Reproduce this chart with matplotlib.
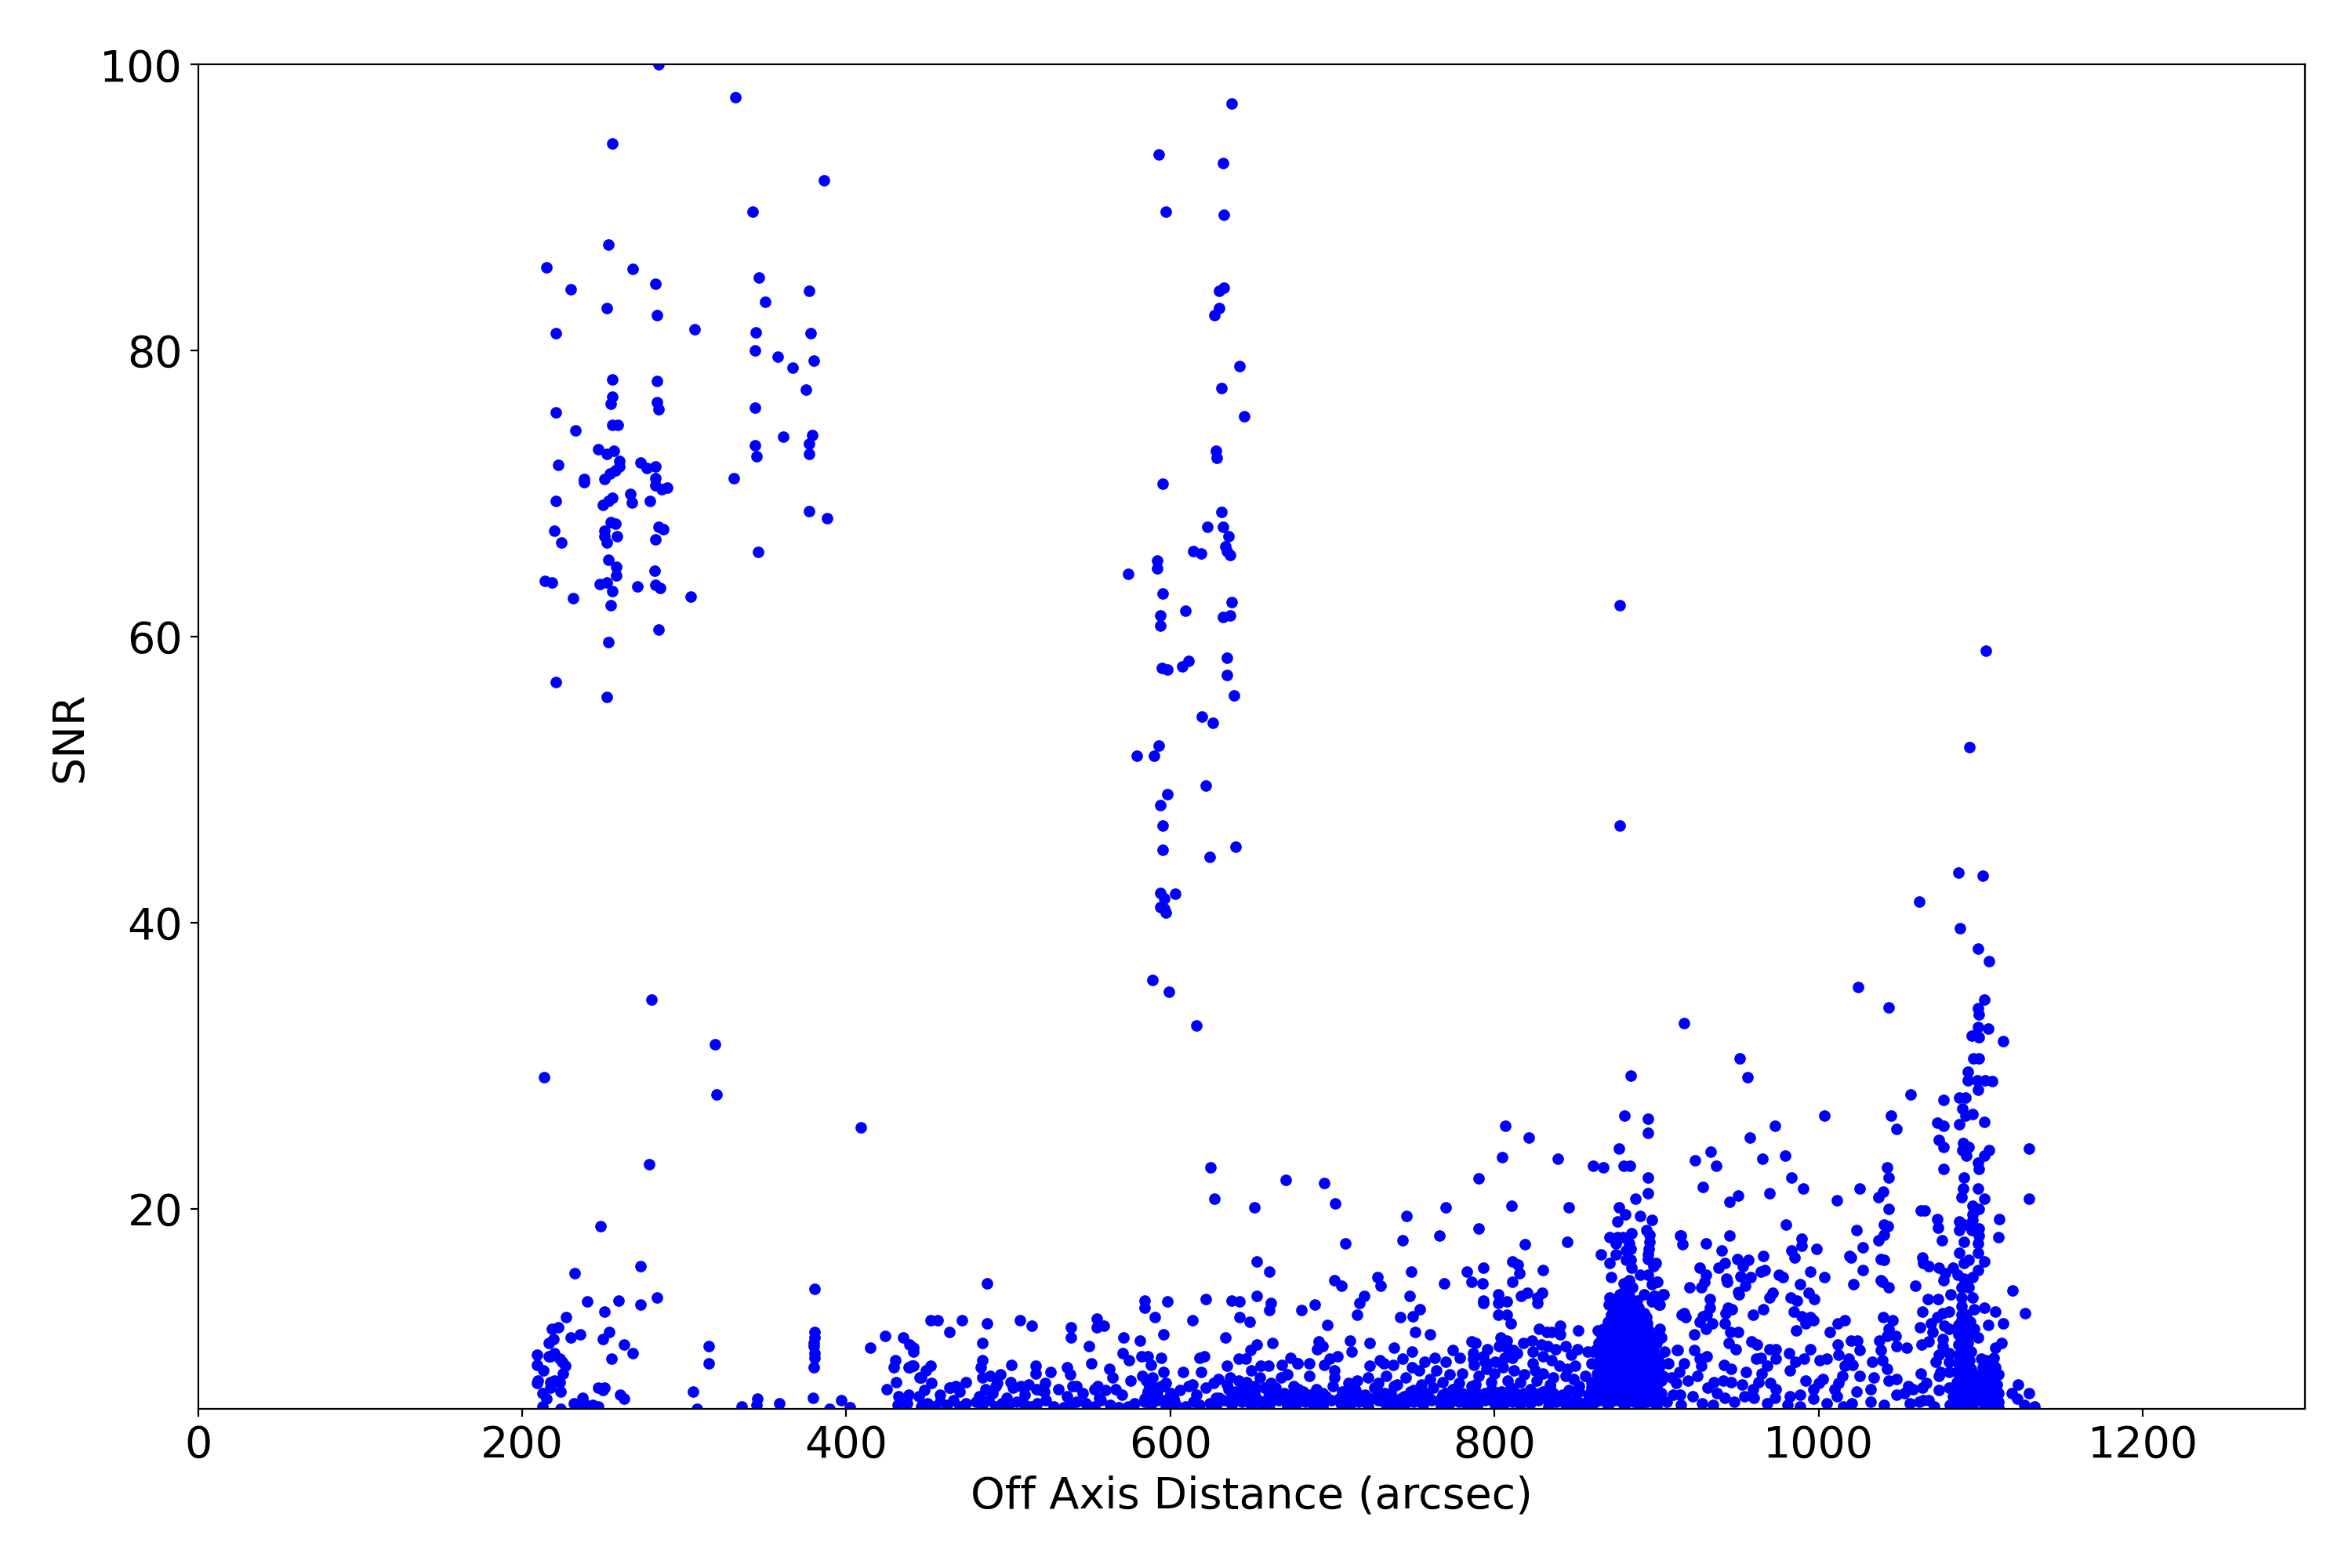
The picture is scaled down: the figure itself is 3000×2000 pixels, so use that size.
import numpy as np
import matplotlib
matplotlib.use('Agg')
from matplotlib import pyplot as plt

# upper left group
upper_left = [(215,85.8),(230,84.3),(221,81.2),(252,83),(253,87.4),(255.6,94.5),(268,85.7),(282,84.7),(283,82.5),(306.5,81.5),
(284,100),(331.5,97.7),(342,89.7),(386,91.9),(346,85.1),(350,83.4),(344,81.3),(343.5,80),(357.5,79.6),(367,78.8),
(377,84.2),(378,81.2),(380,79.3),(375,77.3),(379,74.1),(377,73.5),(377,72.8),(361,74),(343.5,76),(343.5,73.4),
(344.5,72.6),(330.5,71.1),(345.5,65.9),(377,68.8),(388,68.3),(221,75.7),(255.6,78),(255.6,76.8),(254.6,76.3),(283,76.4),
(284,75.9),(283,77.9),(233,74.4),(255.6,74.8),(259,74.8),(222,72),(247,73.1),(252,72.8),(256.5,73),(260,72.3),
(260,71.9),(257.5,71.6),(254,71.4),(251,71),(238,71),(238,70.8),(273,72.2),(277,71.8),(282,71.9),(282,71.1),
(282,70.6),(286,70.3),(289.5,70.4),(278.7,69.5),(266.7,70),(267.6,69.4),(253,69.5),(250,69.2),(255.6,69.7),(221,69.5),
(254.6,68),(257.5,67.9),(251,67.4),(251,67),(252,66.6),(220,67.4),(224,66.6),(284,67.7),(287,67.5),(282,66.8),
(258.4,67),(253,65.4),(258,64.9),(258,64.3),(214,63.9),(218.5,63.8),(248,63.7),(252,63.8),(255.6,63.2),(254.6,62.2),
(271,63.5),(281.5,64.6),(282,63.6),(285,63.4),(231.5,62.7),(304,62.8),(284,60.5),(253,59.6),(221,56.8),(252,55.8)]

# column near 600
middle_column = [(592.6,93.7),(632.5,93.1),(638,97.3),(597,89.7),(633,89.5),(633,84.4),(630,84.2),(630,83),(627,82.5),(642.6,78.9),
(631.5,77.4),(645.4,75.4),(628,73),(628.6,72.5),(595.4,70.7),(631.5,68.7),(632.5,67.7),(623,67.7),(636,67),(634,66.3),
(635,66),(637,65.7),(614,66),(619,65.8),(591.7,65.3),(591.7,64.8),(574,64.4),(638,62.4),(637,61.5),(632.5,61.4),
(609,61.8),(593.5,61.5),(593.5,60.8),(595.4,63),(635,58.5),(611,58.3),(607.5,57.9),(635,57.3),(594.5,57.8),(598,57.7),
(639,55.9),(619.5,54.4),(626,54),(592.6,52.4),(590,51.7),(579,51.7),(622,49.6),(598,49),(593.6,48.2),(595.4,46.8),
(595.4,45.1),(624,44.6),(640,45.3),(603,42),(593.6,42.1),(596,41.7),(593.6,41.1),(596,41),(597,40.7),(589,36),
(599,35.2),(616,32.8)]

# isolated points above the right hand spikes
right_strays = [(691,62.2),(877,62.2),(877,46.8),(1103,59),(1093,52.3),(1086,43.5),(1101,43.3),(1062,41.5),(1087,39.6)]

# low group on the left, x below 450
low_left = [(319,31.5),(213.6,29.2),(320,28),(409,25.7),(278.5,23.1),(279.6,34.6),(248.5,18.8),(273,16),(232.4,15.5),(380.4,14.4),
(240,13.5),(259.7,13.6),(273,13.3),(283,13.8),(227,12.4),(251,12.8),(218.6,11.6),(222.3,11.7),(253.5,11.4),(249.8,10.9),
(230,11),(235.9,11.2),(219.3,10.9),(216.3,10.6),(263,10.5),(268,9.9),(255,9.5),(209,9.8),(209,9.1),(216.3,9.7),
(217.6,9.7),(220,9.9),(223,9.5),(224.5,9.3),(226.7,9),(213,8.7),(225,8.5),(209.6,8),(209,7.8),(217.6,7.9),
(219.6,8),(223,7.9),(217.6,7.5),(212.6,7.1),(215,6.7),(223.5,7.2),(246.8,7.5),(251,7.5),(249.8,7.3),(260.6,7),
(263,6.7),(212.6,6.2),(223.5,6),(237,6.8),(232,6.4),(235,6.3),(238,6.4),(243.3,6.3),(246.8,6.2),(305.4,7.2),
(308,6),(315,10.4),(315,9.2),(335.4,6.2),(345,6.7),(344.8,6.3),(358.7,6.4),(380.4,11.4),(380.4,11),(380,10.6),
(380,10.4),(380.4,9.6),(380.4,9.9),(380,8.9),(379.5,6.8),(389.6,6),(397,6.6),(402,6.1),(423.8,11.1),(414.6,10.3),
(435,11),(439,10.5),(441.6,10.3),(441.6,10),(430,9.4),(429.5,8.9),(439,8.9),(441.6,9),(446,8.2),(430.5,7.9),
(425,7.4),(432.4,6.9),(438.6,7),(444.8,6.9),(431.7,6.3),(437.4,6.4),(446,6.2)]

# x from 430 to 775, SNR above 7.5
low_mid = [(624.8,22.9),(627,20.7),(671,22),(652,20.1),(653.4,16.3),(661,15.6),(487,14.8),(584,13.6),(584,13.1),(598,13.5),
(590.5,12.4),(622,13.7),(638,13.6),(642.8,13.5),(642.8,12.4),(649,12.1),(653,13.9),(662,13.4),(661,12.9),(452,12.2),
(456.5,12.2),(471.4,12.2),(463.7,11.4),(486.6,12),(507,12.2),(514.4,11.8),(538.6,11.7),(538.6,11),(554.6,12.3),(554.4,11.7),
(559,11.8),(549.7,10.4),(571,11),(581,10.8),(595.5,11.2),(613.8,12.2),(634,11),(653.4,10.5),(663,10.6),(484,10.6),
(484,9.4),(483,8.9),(502,9.1),(517,9),(517,8.5),(526,8.6),(536,8.9),(538,8.4),(551.4,9.2),(562.4,8.8),
(564,8.2),(570.6,9.9),(574.5,9.4),(582,9.7),(586,9.7),(588,9.1),(594,9.6),(595.5,8.6),(608,8.6),(617.7,9.6),
(620.7,9.7),(619,8.6),(635,9),(642,9.5),(646.5,9.5),(649.5,10.1),(650,8.7),(655.5,9),(660.5,9),(668.7,9.1),
(674,9.6),(678.6,9.2),(438.4,8.9),(440.5,9),(449,8.7),(452,9),(445,8.2),(452.5,7.8),(467.5,7.6),(463.7,7.5),
(473.8,7.9),(484,8.2),(489,8.3),(495,8.4),(493,7.8),(501.5,7.9),(507.5,7.6),(512.7,7.7),(517.4,7.4),(522.6,7.8),
(539.7,7.6),(555,7.6),(553,7.4),(566,7.4),(575.6,8),(582.7,8.3),(589,8.2),(597,7.8),(595.7,7.6),(611,7.6),
(613.8,7.7),(626.8,7.8),(629.6,8.1),(637,8.2),(642,8),(647,7.9),(655,8.2),(652,7.6),(662,7.8),(668,8.2),
(672,8.4),(665,7.5),(676,7.6),(585,8),(587,7.6),(592,7.5),(645,7.6),(635,7.7),(658,7.5),(679,7.4)]

# x from 680 to 860
low_right = [(694.7,21.8),(701.5,20.4),(806.5,25.8),(821,25),(804.5,23.6),(838.9,23.5),(790,22.1),(770,20.1),(810.3,20.2),(846,20.1),
(745.5,19.5),(790,18.6),(765.8,18.1),(743,17.8),(845,17.7),(708,17.6),(818.5,17.5),(810.8,16.3),(814.5,16.1),(815.2,15.5),
(793,15.9),(782.7,15.6),(830,15.7),(748.4,15.6),(727.6,15.2),(729.5,14.6),(701,15),(705.3,14.6),(785.6,14.9),(792.4,14.8),
(810.8,14.9),(769,14.8),(719.4,13.9),(716.5,13.4),(715,12.6),(747.4,13.9),(753.7,13),(749.4,12.5),(742,12.4),(696.6,11.9),
(750.8,11.4),(760,11.2),(802,14),(802,13.4),(807.4,13.5),(793,13.4),(793,13.6),(802,12.6),(807.6,12.6),(809.8,12),
(816.5,13.9),(820,14.1),(829.4,14.1),(826.6,13.4),(826.6,13.8),(827.3,11.6),(832.3,11.4),(835,11.4),(840.3,11.8),(840.3,11.2),
(851.5,11.5),(863.5,11.5),(681,12.9),(688.8,13.3),(710.6,10.8),(711.6,10),(691.6,10.7),(694,10.4),(690.7,10.2),(723,10.6),
(737.7,10.3),(749,10),(685.8,9.2),(703,9.7),(698,9.5),(694.7,9.1),(678.5,9.2),(701,8.7),(701,8.2),(685.8,8.3),
(723,9),(729,9.4),(731.8,9.2),(737.4,9.1),(743,9.5),(749,8.9),(756.8,9.3),(753.5,8.7),(763,9.6),(770,9.3),
(774,10.1),(778.7,9.6),(764,8.7),(785.6,10.7),(788,10.6),(786.6,9.9),(786.6,9.5),(787.4,9.1),(795.5,10.2),(793,9.7),
(793.9,9.3),(800.3,9.3),(803.5,11),(807.6,10.8),(802.7,10.4),(807.6,10.3),(811.6,10.1),(814,9.9),(806,9.6),(810.8,9.6),
(817.7,10.6),(822.9,10.8),(828.6,10.5),(832.6,10.4),(837.4,10.2),(843.9,10.4),(823.7,10),(823.7,9.2),(830,9.7),(835,9.4),
(847,9.8),(851,10.2),(857.6,10),(860.8,10),(849.5,9),(860,9.2),(840,9),(844.7,8.8),(856,8.3),(843.9,8.3),
(848.9,8.1),(795,8.8),(800,8.5),(805,8.9),(812,8.7),(818,8.4),(825,8.7),(830,8.5),(836,8.2),(790,8.3),
(780,8.5),(772,8.4),(760,8.1),(745,8.2),(733,8.3),(722,8.2),(715,8),(710,7.8),(728,7.8),(740,7.7),
(755,7.7),(768,7.9),(778,7.8),(788,7.7),(798,7.9),(808,8),(816,7.9),(826,8),(834,7.7),(852,7.6),(860,7.8)]

# spike around 880
spike_880 = [(883.9,29.3),(880,26.5),(894.5,26.3),(894.5,25.3),(876.6,24.2),(860.6,23),(867,22.9),(879.7,23),(883.4,23),(894.5,22.2),
(894.5,21.1),(886.8,20.7),(876.6,20.1),(880.6,19.6),(890,19.5),(897,19.2),(876,19.1),(884.4,18.3),(893.5,18.5),(870.8,18),
(895.5,18.2),(876,18),(879,18),(875,17.6),(883,17.6),(895.5,17.7),(884,17.2),(881,17.1),(865.6,16.8),(875,16.8),
(895,17.2),(894.7,16.8),(894.7,16.5),(870.8,16.2),(881,16.4),(884,16.4),(884.4,15.9),(899.5,16.2),(898,16),(871.8,15.2),
(889.7,15.4),(894.7,15.4),(900.6,14.9),(897,14.7),(883,15),(879.7,14.8),(871,13.8),(870.5,13.3),(879.4,14.2),(892.3,14),
(898.7,13.9),(897,13.5),(904.4,14),(902,13.3),(893.5,12.4),(902,11.6),(913,10.1),(881,14.4),(885,14.5),(877,14),
(883,13.9),(876,13.5),(880,13.5),(884,13.5),(888,13.6),(873,13.1),(877,13),(881,13.1),(885,13),(889,13.1),
(872,12.6),(876,12.6),(880,12.6),(884,12.6),(888,12.6),(892,12.7),(870,12.1),(874,12.2),(878,12.1),(882,12.2),
(886,12.1),(890,12.2),(894,12),(867,11.6),(871,11.7),(875,11.6),(879,11.7),(883,11.6),(887,11.7),(891,11.6),
(895,11.5),(866,11.1),(870,11.1),(874,11.2),(878,11.1),(882,11.2),(886,11.1),(890,11.2),(894,11.1),(898,11.1),
(903,11),(864,10.6),(868,10.6),(872,10.7),(876,10.6),(880,10.7),(884,10.6),(888,10.7),(892,10.6),(896,10.7),
(900,10.6),(862,10.1),(866,10.1),(870,10.2),(874,10.1),(878,10.2),(882,10.1),(886,10.2),(890,10.1),(894,10.2),
(898,10.1),(905,10),(865,9.6),(869,9.6),(873,9.7),(877,9.6),(881,9.7),(885,9.6),(889,9.7),(893,9.6),(897,9.5),
(901,9.5),(864,9),(868,9.1),(872,9.1),(876,9),(880,9.1),(884,9),(888,9.1),(892,9),(896,9),(902,9),
(863,8.5),(867,8.5),(871,8.6),(875,8.5),(879,8.6),(883,8.5),(887,8.6),(891,8.5),(896,8.4),(899,8.6),
(904,8.3),(862,8),(866,8),(870,8.1),(874,8),(878,8.1),(882,8),(886,8.1),(890,8),(894,8),(898,7.9),
(903,8),(860,7.5),(864,7.5),(868,7.6),(872,7.5),(876,7.6),(880,7.5),(884,7.6),(888,7.5),(892,7.6),(896,7.5),
(900,7.5),(858,7),(862,7),(866,7.1),(870,7),(874,7.1),(878,7),(882,7.1),(886,7),(890,7.1),(894,7),
(898,7),(903,7.1),(850,6.6),(854,6.4),(858,6.5),(862,6.5),(866,6.6),(870,6.5),(874,6.6),(878,6.5),(882,6.6),
(886,6.5),(890,6.6),(894,6.5),(898,6.5),(902,6.6),(906,6.5),(852,6.1),(860,6.1),(870,6.1),(880,6.1),(890,6.1),(900,6.1)]

# x from 905 to 1060
right_group = [(917,33),(951.3,30.5),(956,29.2),(1024.4,35.5),(1043.2,34.1),(1056.8,28),(1003.5,26.5),(1044.7,26.5),(1048,25.6),(973,25.8),
(957.6,25),(933.4,24),(923.5,23.4),(936.8,23),(965.3,23.5),(979.4,23.7),(1042.3,22.9),(1043.2,22.2),(983,22.2),(928.5,21.5),
(990.5,21.4),(969.7,21.1),(1025.3,21.4),(1039.8,21.2),(1037,20.8),(1011.3,20.6),(950.3,20.9),(945,20.5),(1043.2,20),(979.8,18.9),
(1040,18.9),(1042.7,18.8),(1040,18.2),(1037,17.8),(1023.4,18.5),(989.5,17.9),(989.2,17.4),(914.5,18.1),(916,17.5),(930.5,17.6),
(945,18.1),(998.7,17.2),(940.2,17.1),(983.2,17.1),(985,16.6),(1027.3,17.3),(965.8,16.7),(950,16.5),(956.5,16.4),(953.2,16),
(942,16.2),(938,15.9),(926.6,15.9),(930.3,15.4),(929.4,14.9),(927.7,14.5),(920.2,14.5),(943.2,15.1),(943.5,14.9),(951.6,15.3),
(958,15.2),(954.8,14.6),(950.3,14.2),(950.8,14),(964.5,15.6),(966.5,15.7),(994.8,15.6),(975.5,15.4),(977.7,15.2),(1003.5,15.2),
(988.5,14.7),(993.9,14.1),(997.3,13.7),(1019,16.7),(1020,16.6),(1027.3,15.7),(1021.5,14.7),(1038.2,16.5),(1040,16.4),(1038.2,15),
(1039.5,14.9),(1043.2,14.5),(1059.7,14.6),(914.8,18.1),(915.6,12.6),(982.6,13.8),(986.3,13.6),(969.7,13.8),(971.3,14.1),(965.8,13),
(959.4,12.6),(984.7,12.8),(989.5,12.5),(995,12.4),(996.6,12.2),(991.9,12),(986,11.5),(1016.1,12.2),(1011.8,12),(1007,11.4),
(1011.8,10.5),(1020,10.8),(1023.9,10.8),(1025.3,10.1),(1039.8,12.4),(1045.6,12.2),(1043.2,11.6),(1047.6,11.1),(1042,11.1),(1037.4,10.8),
(1048,10.4),(1054.4,10.3),(1038.2,10.1),(1033,9.3),(1039.5,9.4),(1042,8.8),(1043.2,8),(1048,8.1),(1063,8.5),(1066.5,7.8),
(1063.7,7.5),(1055.3,7.6),(1058,7.4),(1053,7.1),(1048,7),(1032,7.4),(1023.4,7.2),(1020.2,6.4),(958.5,10.7),(962,10.5),
(969.7,10.2),(973.7,10.2),(973.7,9.5),(961.3,9.5),(964.5,9.6),(968.2,9),(981.8,9.9),(985.5,9.3),(982,8.7),(991,9.5),
(995,10.2),(1000.8,9.4),(1004.8,9.5),(1012,9.8),(1018.5,9.5),(1016,9),(1014.5,8.3),(1025,8.3),(1021,9.1),(991.9,8),
(1002.6,8.1),(1012,7.8),(1009.7,7.4),(1011.3,6.9),(923.2,11.2),(923.2,10.1),(912.6,10.1),(917,9.2),(914.2,8.6),(912,7.8),
(914.5,7),(919.4,8),(926.5,9.5),(931,9.7),(927.7,9),(925.3,8.3),(935.5,7.9),(931.5,7.5),(937.4,7.1),(935,6.3),
(945.2,11.4),(950.3,11.4),(944.4,10.6),(949,10.2),(941.6,9.1),(945.8,8.8),(955.2,8.6),(941,8),(945.8,7.9),(952.6,7.7),
(959.6,7.4),(965,8.5),(962.6,7.9),(970.2,7.8),(973.4,7.4),(960,6.8),(968.2,6.4),(973,6.8),(982.3,6.9),(988.7,7),
(996.6,7.4),(996.6,6.7),(1005,6.4),(980.6,6.3),(988.7,6.2),(917,12.7),(917.8,12.4),(926.6,12.1),(928.3,12.5),(930.8,12.6),
(933,13.7),(933,13.1),(930.5,11.6),(934.2,12),(941.9,12),(943.9,13.1),(946.3,13),(942.7,12.7),(904,14),(901.6,13.3),
(898.4,13.9),(900,14.9),(909,8.2),(907,9.2),(910,7),(915,6.3),(922,6.9),(928,6.4),(942,6.8),(948,6.5),
(954,6.9),(1032,6.5),(1040,6.3),(1015,6.2),(1000,7.8),(1034,8.2)]

# spike around 1090
spike_1090 = [(1098.4,38.2),(1105,37.3),(1102,34.6),(1098.4,34),(1098.7,33.6),(1098.4,32.7),(1104.8,32.6),(1094.4,32.1),(1098.7,32),(1113.9,31.7),
(1095.5,30.5),(1099,30.5),(1092,29.6),(1092,29),(1097.6,29),(1102.4,29),(1106.8,28.9),(1098.4,28.3),(1086.6,27.8),(1090.6,27.8),
(1077,27.6),(1088.7,27),(1095,26.6),(1090.6,26.5),(1102.3,26.1),(1086.6,25.9),(1073,26),(1077,25.8),(1073.9,24.8),(1077,24.3),
(1089,24.6),(1092.7,24.3),(1088.4,24.1),(1090.8,23.7),(1105,24.1),(1102.3,23.7),(1129.8,24.2),(1077,22.8),(1098.4,23.2),(1099,22.8),
(1089.5,22.2),(1089,21.4),(1088,20.8),(1098.4,21.4),(1102.3,20.7),(1129.8,20.7),(1095,20.2),(1099,20),(1063.2,19.9),(1065.3,19.9),
(1073.2,19.3),(1073.7,18.7),(1095,19.6),(1095,19.2),(1111.3,19.3),(1086.6,19.1),(1089.5,18.9),(1086.6,18.5),(1094.4,18.5),(1099,18.6),
(1099,18.1),(1098.4,17.6),(1075.8,17.8),(1111,18),(1089.5,17.7),(1086.6,16.9),(1098.4,16.9),(1063.7,16.6),(1064.5,16.2),(1067.7,16),
(1073.9,15.9),(1083,15.9),(1078,15.5),(1077,15),(1085.5,15.4),(1089.5,16.2),(1092.7,16.4),(1102.3,16.3),(1098.4,15.7),(1095,15.2),
(1089.5,15.1),(1088,14.5),(1092.7,14.5),(1119.8,14.3),(1081.5,14),(1067.4,13.7),(1073.7,13.7),(1088,13.8),(1094.8,13.8),(1088,13.2),
(1096.1,13),(1102.3,13.1),(1109,12.8),(1127.4,12.7),(1064,12.8),(1080.6,12.8),(1076.6,12.7),(1073.3,12.4),(1069.3,12),(1077.4,11.8),
(1062.6,11.7),(1088,12.6),(1093.5,12.1),(1096,11.6),(1104.8,11.9),(1113.9,12),(1098.4,11),(1080.6,11.6),(1070,11.4),(1076.6,10.9),
(1076.6,10.4),(1067.7,10.7),(1063.4,10.5),(1112.6,10.6),(1108.9,10.3),(1108,9.6),(1080.6,9.9),(1080.6,9.3),(1073.9,9.8),(1072.3,9.3),
(1088,12.2),(1091,12.6),(1086,11.9),(1090,11.7),(1093,11.2),(1086,11.2),(1089,10.9),(1092,10.6),(1086,10.5),(1090,10.2),
(1094,10),(1086,9.8),(1089,9.5),(1093,9.4),(1086,9.2),(1090,8.9),(1094,8.8),(1085,8.6),(1088,8.3),(1092,8.2),
(1096,8.4),(1085,7.9),(1089,7.7),(1093,7.6),(1097,7.8),(1085,7.2),(1089,7.1),(1093,7),(1097,7.2),(1085,6.6),
(1089,6.5),(1093,6.5),(1097,6.6),(1085,6.1),(1090,6.1),(1095,6.1),(1100,9.5),(1103,9.4),(1106,9.3),(1101,8.9),
(1105,8.8),(1109,8.9),(1100,8.3),(1104,8.4),(1108,8.3),(1111,8.4),(1100,7.8),(1103,7.7),(1107,7.8),(1110,7.7),
(1100,7.2),(1104,7.1),(1108,7.2),(1111,7.1),(1100,6.6),(1104,6.6),(1108,6.6),(1111,6.5),(1102,6.1),(1107,6.1),
(1111,6.1),(1073.9,7.3),(1073.9,8.3),(1080.6,8.6),(1075,8.6),(1080.6,7.5),(1083,6.9),(1081,6.3),(1064.5,6.6),(1056.4,6.4),
(1062,6.5),(1067.7,6.6),(1071,6.2),(1119,7.1),(1123,7.7),(1122.6,6.7),(1129.8,7.1),(1126.6,6.3),(1133,6.2)]

# bottom band, x from 430 to 860
band_x = [450,454,458,462,466,470,474,480,484,488,492,496,500,505,510,514,518,523,528,534,
538,542,548,553,557,563,568,574,578,584,588,592,597,603,609,614,618,624,628,633,
638,644,650,656,661,667,672,678,683,688,694,699,705,711,716,722,728,733,739,744,
750,756,761,767,772,778,783,789,794,800,805,811,816,822,827,833,838,844,849,855,
458,470,482,490,499,510,522,536,546,556,570,586,592,600,616,628,640,652,664,676,
686,696,708,720,732,744,756,768,780,792,804,816,828,840,852,
448,464,486,492,503,520,531,542,560,588,594,606,622,636,648,660,690,700,714,726,
738,750,762,774,786,798,810,822,834,846,
584,590,596,602,630,636,642,648,654,660,666,672,680,684,692,704,710,718,724,730,
736,742,748,754,760,766,772,778,784,790,796,802,808,814,820,826,832,838,844,850,
586,592,640,646,652,670,682,688,694,706,716,728,736,748,758,770,776,782,788,794,
800,806,812,818,824,830,836,842]
band_y = [6.4,6.2,6.5,6.3,6.6,6.2,6.4,6.5,6.3,6.6,6.2,6.4,6.1,6.5,6.3,6.2,6.4,6.6,6.2,6.1,
6.3,6.5,6.4,6.2,6.6,6.3,6.1,6.2,6.4,6.5,6.3,6.6,6.2,6.4,6.2,6.5,6.3,6.4,6.2,6.6,
6.3,6.5,6.2,6.4,6.3,6.6,6.2,6.4,6.5,6.3,6.2,6.6,6.4,6.3,6.5,6.2,6.6,6.3,6.4,6.2,
6.5,6.3,6.6,6.2,6.4,6.5,6.3,6.2,6.6,6.4,6.2,6.5,6.3,6.4,6.6,6.2,6.5,6.3,6.4,6.2,
7,7.2,6.9,7.1,6.8,7,7.2,6.9,7.1,6.8,7,7.2,6.9,7.1,7,6.8,7.2,7,6.9,7.1,
7,6.9,7.2,7,7.1,6.9,7.2,7,7.1,6.9,7.2,7,7.1,6.9,7.2,
7.3,7.5,7.4,7.6,7.5,7.3,7.4,7.6,7.3,7.5,7.6,7.3,7.5,7.4,7.6,7.3,7.4,7.6,7.3,7.5,
7.6,7.3,7.5,7.4,7.6,7.3,7.5,7.4,7.6,7.3,
6.7,6.8,6.6,6.7,6.8,6.6,6.7,6.8,6.6,6.7,6.8,6.6,6.7,6.8,6.6,6.7,6.8,6.6,6.7,6.6,
6.8,6.7,6.6,6.8,6.7,6.6,6.8,6.7,6.6,6.8,6.7,6.6,6.8,6.7,6.6,6.8,6.7,6.6,6.8,6.7,
7.1,7.2,7.1,7,7.2,7.1,7.2,7,7.1,7.2,7,7.2,7.1,7.2,7,7.1,7.2,7,7.2,7.1,
7.2,7,7.2,7.1,7,7.2,7.1,7]

x_ticks = [0, 200, 400, 600, 800, 1000, 1200]
y_ticks = [20, 40, 60, 80, 100]

points = np.array(upper_left + middle_column + right_strays[1:] + low_left + low_mid + low_right + spike_880 + right_group + spike_1090)
off_axis = np.concatenate([points[:, 0], band_x])
snr = np.concatenate([points[:, 1], band_y])

plt.rcParams['font.size'] = 20
fig = plt.figure(figsize=(15, 10), dpi=200)
ax = fig.add_axes([0.0842, 0.1014, 0.8958, 0.8574])
ax.scatter(off_axis, snr, s=28, c='b', linewidths=0)
ax.set_xlim(0, 1300)
ax.set_ylim(6, 100)
ax.set_xticks(x_ticks)
ax.set_yticks(y_ticks)
ax.set_xlabel('Off Axis Distance (arcsec)')
ax.set_ylabel('SNR')
fig.savefig('out.png')
